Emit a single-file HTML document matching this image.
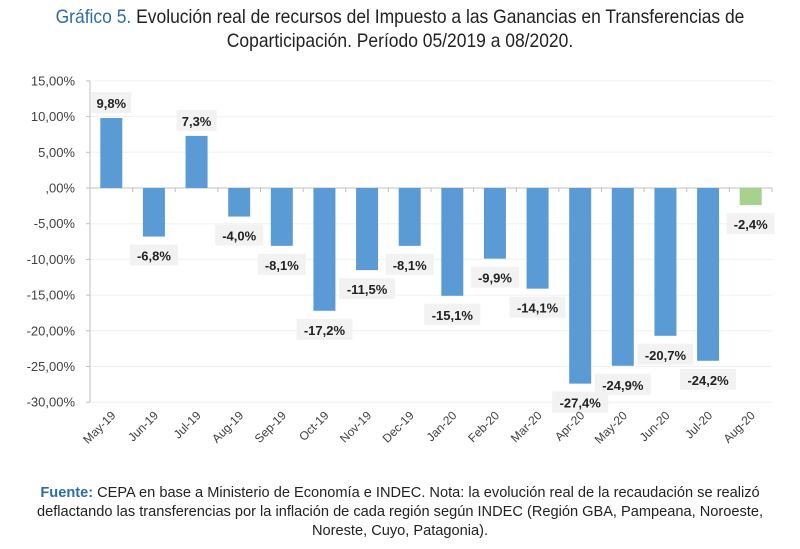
<!DOCTYPE html>
<html><head><meta charset="utf-8"><style>
body{margin:0;width:800px;height:549px;background:#fff;overflow:hidden;font-family:"Liberation Sans",sans-serif}
#title{position:absolute;top:5px;left:0;width:800px;text-align:center;font-size:19.5px;line-height:24px;color:#222;transform:scaleX(0.895);transform-origin:center}
#title b{color:#2e6da4;font-weight:normal}
#note{position:absolute;top:484px;left:0;width:800px;text-align:center;font-size:14.6px;line-height:19px;color:#222}
#note b{color:#2e6da4;font-weight:bold}
svg{position:absolute;left:0;top:0}
</style></head><body>
<div id="title"><b>Gráfico 5.</b> Evolución real de recursos del Impuesto a las Ganancias en Transferencias de<br>Coparticipación. Período 05/2019 a 08/2020.</div>
<svg id="chart" width="800" height="480"></svg>
<div id="note"><b>Fuente:</b> CEPA en base a Ministerio de Economía e INDEC. Nota: la evolución real de la recaudación se realizó<br>deflactando las transferencias por la inflación de cada región según INDEC (Región GBA, Pampeana, Noroeste,<br>Noreste, Cuyo, Patagonia).</div>
<script>
const categories=["May-19","Jun-19","Jul-19","Aug-19","Sep-19","Oct-19","Nov-19","Dec-19","Jan-20","Feb-20","Mar-20","Apr-20","May-20","Jun-20","Jul-20","Aug-20"];
const values=[9.8,-6.8,7.3,-4.0,-8.1,-17.2,-11.5,-8.1,-15.1,-9.9,-14.1,-27.4,-24.9,-20.7,-24.2,-2.4];
const labels=["9,8%","-6,8%","7,3%","-4,0%","-8,1%","-17,2%","-11,5%","-8,1%","-15,1%","-9,9%","-14,1%","-27,4%","-24,9%","-20,7%","-24,2%","-2,4%"];
const ticks=[15,10,5,0,-5,-10,-15,-20,-25,-30];
const tickLabels=["15,00%","10,00%","5,00%",",00%","-5,00%","-10,00%","-15,00%","-20,00%","-25,00%","-30,00%"];
const svg=document.getElementById('chart');const NS='http://www.w3.org/2000/svg';
const L=90,R=772,y0=188,pp=7.14;
const bw=(R-L)/categories.length;
const y=v=>y0-v*pp;const x=i=>L+bw*(i+0.5);
function mk(t,a,txt){const e=document.createElementNS(NS,t);for(const k in a)e.setAttribute(k,a[k]);if(txt!=null)e.textContent=txt;svg.appendChild(e);return e;}
ticks.forEach((t,i)=>{
 const g=mk('line',{x1:L,x2:R,y1:y(t),y2:y(t),stroke:t===0?'#bfbfbf':'#f0f0f0','stroke-width':1});
 
 
 const tl=mk('text',{x:L-15,y:y(t)+4.5,'text-anchor':'end','font-size':13,fill:'#404040'},tickLabels[i]);
 
 
 mk('line',{x1:L-4,x2:L,y1:y(t),y2:y(t),stroke:'#bfbfbf'});
});
mk('line',{x1:L,x2:L,y1:y(15),y2:y(-30),stroke:'#bfbfbf'});
categories.forEach((c,i)=>{
 const v=values[i];
 mk('line',{x1:L+bw*(i+1),x2:L+bw*(i+1),y1:y0,y2:y0+4,stroke:'#bfbfbf'});
 const b=mk('rect',{x:x(i)-11,width:22,y:Math.min(y(v),y0),height:Math.abs(y(v)-y0),fill:i===15?'#a9d18e':'#5b9bd5'});
 
 
 const ly=v>=0?y(v)-15:y(v)+19;
 const w=labels[i].length*8+8;
 mk('rect',{x:x(i)-w/2,y:ly-11,width:w,height:21,fill:'#f2f2f2'});
 const t=mk('text',{x:x(i),y:ly+5,'text-anchor':'middle','font-size':13,'font-weight':'bold',fill:'#222'},labels[i]);
 
 
 const xl=mk('text',{x:0,y:0,'text-anchor':'end','font-size':12,fill:'#404040',transform:`translate(${x(i)+5},${y(-30)+14}) rotate(-45)`},c);
 
 
});
</script>
</body></html>
